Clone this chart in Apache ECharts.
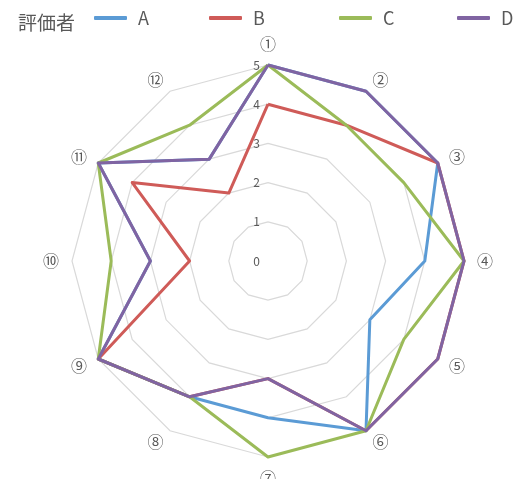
<!DOCTYPE html>
<html>
<head>
<meta charset="utf-8">
<style>
html,body{margin:0;padding:0;background:#fff;}
#chart{width:524px;height:479px;}
</style>
<script src="https://cdn.jsdelivr.net/npm/echarts@6/dist/echarts.min.js"></script>
</head>
<body>
<div id="chart"></div>
<script>
const indicators = ['①','②','③','④','⑤','⑥','⑦','⑧','⑨','⑩','⑪','⑫'];
const seriesNames = ['A','B','C','D'];
const valuesA = [5,5,5,4,3,5,4,4,5,3,5,3];
const valuesB = [4,4,5,5,5,5,3,4,5,2,4,2];
const valuesC = [5,4,4,5,4,5,5,4,5,4,5,4];
const valuesD = [5,5,5,5,5,5,3,4,5,3,5,3];
const legendTitle = '評価者';
const colors = ['#5b9bd5','#cf5b58','#9bbb59','#8064a2'];
const legendLefts = [94, 209, 339, 457];

const font = '"Noto Sans CJK JP", "Noto Sans", sans-serif';
const allValues = [valuesA, valuesB, valuesC, valuesD];
// ECharts radar runs counter-clockwise; reorder so the chart runs clockwise
const order = indicators.map((_, i) => (indicators.length - i) % indicators.length);

const chart = echarts.init(document.getElementById('chart'));
chart.setOption({
  animation: false,
  title: {
    text: legendTitle, left: 13, top: 8,
    textStyle: {fontFamily: font, fontSize: 19, fontWeight: 'normal', color: '#595959'}
  },
  legend: seriesNames.map((n, i) => ({
    data: [n], left: legendLefts[i], top: 9, padding: 0, itemGap: 0,
    icon: 'roundRect', itemWidth: 33, itemHeight: 4,
    textStyle: {fontFamily: font, fontSize: 18, color: '#595959', padding: [0,0,0,6]}
  })),
  radar: {
    center: [268, 261],
    radius: 196,
    startAngle: 90,
    splitNumber: 5,
    shape: 'polygon',
    indicator: order.map((k, i) => i === 0
      ? {name: indicators[k], min: 0, max: 5, axisLabel: {show: true}}
      : {name: indicators[k], min: 0, max: 5}),
    axisName: {color: '#595959', fontFamily: font, fontSize: 16},
    nameGap: 13,
    axisLine: {show: false},
    axisTick: {show: false},
    splitArea: {show: false},
    splitLine: {lineStyle: {color: '#d9d9d9', width: 1.2}},
    axisLabel: {show: false, color: '#595959', fontFamily: font, fontSize: 12, margin: 8}
  },
  series: [{
    type: 'radar',
    symbol: 'none',
    data: seriesNames.map((n, i) => ({
      name: n, value: order.map(k => allValues[i][k]),
      lineStyle: {color: colors[i], width: 3},
      itemStyle: {color: colors[i]}
    }))
  }]
});
</script>
</body>
</html>
